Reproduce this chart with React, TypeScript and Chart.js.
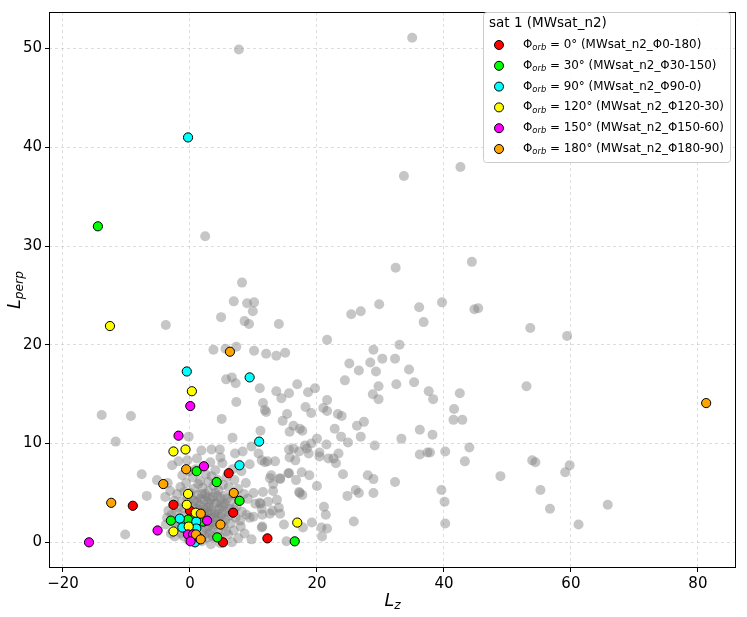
import React, { useEffect, useRef } from 'react';
import Chart from 'chart.js/auto';

// axis ranges and ticks
const xRange = [-22.2, 86.0];
const yRange = [-2.6, 53.7];
const xTicks = [-20, 0, 20, 40, 60, 80];
const yTicks = [0, 10, 20, 30, 40, 50];

const legendTitle = 'sat 1 (MWsat_n2)';
const phiLabels = ['0°', '30°', '90°', '120°', '150°', '180°'];
const runNames = [
  'MWsat_n2_Φ0-180',
  'MWsat_n2_Φ30-150',
  'MWsat_n2_Φ90-0',
  'MWsat_n2_Φ120-30',
  'MWsat_n2_Φ150-60',
  'MWsat_n2_Φ180-90',
];
const phiColors = ['#ff0000', '#00ff00', '#00ffff', '#ffff00', '#ff00ff', '#ffa500'];

// satellite particles per orbital phase
const phi0Lz = [6.1, -9.0, -2.6, 0.0, 6.8, 5.2, 12.2];
const phi0Lperp = [7.0, 3.7, 3.8, 3.2, 3.0, 0.0, 0.4];
const phi30Lz = [-14.5, 1.05, 4.2, 7.8, -0.3, -3.0, 2.1, 4.3, 16.5];
const phi30Lperp = [32.0, 7.2, 6.1, 4.2, 2.3, 2.2, 2.1, 0.5, 0.1];
const phi90Lz = [-0.3, -0.5, 9.4, 10.9, 7.8, -1.6, 1.0, -1.2, 1.0, 0.8];
const phi90Lperp = [41.0, 17.3, 16.7, 10.2, 7.8, 2.4, 2.1, 1.5, 1.4, 0.0];
const phi120Lz = [-12.6, 0.3, -2.6, -0.7, -0.3, -0.5, 0.9, -2.6, -0.2, 16.9];
const phi120Lperp = [21.9, 15.3, 9.2, 9.4, 4.9, 3.8, 3.0, 1.1, 1.6, 2.0];
const phi150Lz = [0.05, -1.8, 2.2, -5.1, -15.9, 2.7, -0.3, 0.5, 0.1, 1.5];
const phi150Lperp = [13.8, 10.8, 7.7, 1.2, 0.0, 2.2, 0.8, 0.8, 0.1, 0.4];
const phi180Lz = [6.3, 81.3, -0.6, -4.2, 6.9, -12.4, 1.7, 4.8, 0.95, 1.7];
const phi180Lperp = [19.3, 14.1, 7.4, 5.9, 5.0, 4.0, 2.9, 1.8, 0.8, 0.3];

const phaseLz = [phi0Lz, phi30Lz, phi90Lz, phi120Lz, phi150Lz, phi180Lz];
const phaseLperp = [phi0Lperp, phi30Lperp, phi90Lperp, phi120Lperp, phi150Lperp, phi180Lperp];

// background halo particles, [Lz, Lperp]
const haloOuter = [
  [7.7, 49.9], [35.0, 51.1], [2.4, 31.0], [42.6, 38.0], [33.7, 37.1], [44.4, 28.4], [32.4, 27.8], [8.2, 26.3],
  [29.8, 24.1], [36.1, 23.8], [39.7, 24.3], [44.8, 23.6], [45.4, 23.7], [36.8, 22.3], [53.6, 21.7], [59.4, 20.9],
  [33.0, 20.0], [30.3, 18.6], [32.3, 18.6], [34.5, 17.5], [53.0, 15.8], [37.6, 15.3], [38.3, 14.5], [42.5, 15.1],
  [41.6, 13.5], [41.5, 12.4], [42.9, 12.4], [38.2, 10.9], [37.8, 9.1], [40.2, 9.2], [44.0, 9.6], [43.3, 8.2],
  [53.9, 8.3], [54.4, 8.1], [59.8, 7.8], [59.1, 7.1], [48.9, 6.7], [39.6, 5.3], [55.2, 5.3], [40.1, 4.1],
  [65.8, 3.8], [56.7, 3.4], [40.2, 1.9], [61.2, 1.8], [32.5, 16.0], [35.3, 16.2], [36.2, 11.4], [33.3, 10.5],
  [-3.8, 22.0],
];
const haloMiddle = [
  [6.9, 24.4], [9.0, 24.2], [10.1, 24.3], [9.9, 23.4], [4.9, 22.8], [8.6, 22.4], [9.3, 22.1], [14.0, 22.1],
  [25.4, 23.1], [26.9, 23.4], [21.6, 20.5], [3.7, 19.5], [5.6, 19.6], [7.3, 19.8], [10.1, 19.4], [12.0, 19.1],
  [13.6, 18.9], [15.0, 19.2], [28.9, 19.5], [25.1, 18.1], [26.6, 17.4], [28.4, 18.2], [29.3, 17.3], [5.7, 16.5],
  [6.6, 16.7], [7.2, 16.1], [11.0, 15.6], [13.6, 15.3], [14.4, 14.6], [15.6, 15.1], [16.9, 16.0], [18.6, 15.2],
  [19.7, 15.6], [24.4, 16.4], [29.7, 15.8], [28.8, 15.0], [29.7, 14.5], [21.6, 14.4], [7.3, 14.2], [11.5, 14.1],
  [11.8, 13.4], [12.0, 13.2], [15.3, 13.0], [18.2, 13.7], [19.1, 13.1], [21.0, 13.6], [21.6, 13.3], [23.3, 13.0],
  [23.9, 12.8], [5.0, 12.5], [14.6, 12.3], [27.4, 12.2], [16.3, 11.8], [17.7, 11.3], [11.1, 11.3], [22.8, 11.5],
  [23.8, 10.7], [26.3, 11.8], [26.9, 10.7], [24.9, 10.1], [29.1, 9.8], [36.2, 8.9], [37.4, 9.1], [9.7, 9.7],
  [10.8, 9.0], [15.6, 9.4], [17.2, 9.2], [18.7, 9.0], [18.1, 9.8], [19.1, 10.0], [20.0, 10.5], [20.4, 9.1],
  [21.5, 9.9], [21.8, 8.5], [20.4, 8.7], [23.4, 9.0], [23.0, 8.0], [15.7, 8.6], [16.6, 8.3], [13.4, 8.2],
  [11.8, 8.1], [9.4, 7.9], [15.7, 11.2], [17.3, 11.5], [16.3, 9.5], [18.4, 9.5], [22.6, 8.5],
];
const haloInner = [
  [15.6, 7.0], [17.6, 7.1], [18.8, 6.8], [12.8, 6.8], [14.2, 6.4], [13.1, 5.9], [24.1, 6.9], [28.0, 6.8],
  [28.9, 6.4], [32.3, 6.1], [16.7, 6.3], [20.0, 5.7], [17.2, 5.1], [17.7, 4.8], [26.1, 5.3], [26.6, 5.0],
  [28.9, 5.0], [24.8, 4.7], [11.5, 5.1], [10.0, 5.0], [9.1, 4.4], [13.7, 4.3], [12.3, 4.1], [11.1, 3.9],
  [10.3, 3.9], [14.0, 3.5], [13.0, 3.2], [11.4, 2.8], [21.1, 3.6], [21.4, 2.8], [10.0, 2.6], [8.9, 2.8],
  [7.9, 2.2], [19.2, 2.0], [17.8, 1.5], [14.8, 1.8], [25.8, 2.1], [20.7, 1.5], [21.6, 1.4], [20.8, 0.6],
  [11.4, 1.6], [9.7, 0.3], [15.2, 0.1], [11.3, 8.3], [12.2, 8.2], [14.2, 6.5], [12.6, 6.5], [15.5, 7.0],
  [13.1, 5.2], [17.3, 5.0], [11.0, 4.0], [11.3, 3.4], [12.6, 2.9], [14.2, 2.9], [9.4, 2.5], [11.3, 1.5],
  [-13.9, 12.9], [-9.3, 12.8], [-11.7, 10.2], [-7.6, 6.9], [-5.2, 6.3], [-6.8, 4.7], [-10.2, 0.8], [-0.2, 10.7],
  [-1.8, 8.2], [-0.4, 8.3], [1.8, 9.3], [3.4, 9.4], [4.7, 9.4], [6.7, 10.6], [7.1, 9.0], [8.3, 9.2],
];
const haloCore = [
  [-3.5, 6.0], [-2.8, 7.8], [-1.2, 6.8], [-0.6, 6.0], [0.4, 6.6], [1.6, 6.2], [2.5, 6.9], [3.2, 8.1],
  [4.0, 7.3], [5.1, 8.0], [5.8, 6.6], [7.0, 6.3], [8.1, 7.2], [8.8, 6.0], [-3.9, 4.6], [-3.1, 5.2],
  [-2.0, 4.9], [-1.5, 5.6], [0.6, 5.4], [1.2, 4.8], [2.0, 5.5], [2.9, 5.2], [3.6, 4.6], [4.5, 5.3],
  [5.4, 4.7], [6.1, 5.6], [7.6, 5.4], [8.5, 4.9], [-3.4, 3.2], [-2.1, 3.0], [-1.3, 4.1], [-0.9, 3.4],
  [0.7, 4.2], [1.5, 3.8], [2.3, 4.3], [3.0, 3.6], [3.8, 3.9], [4.6, 3.4], [5.5, 3.9], [6.3, 4.1],
  [7.3, 3.6], [8.2, 3.1], [-3.8, 1.8], [-2.9, 2.8], [-1.9, 1.9], [-0.8, 2.7], [0.3, 2.6], [1.4, 1.7],
  [2.2, 2.9], [3.1, 2.4], [3.9, 3.0], [4.7, 2.6], [5.6, 2.3], [6.4, 1.9], [7.2, 2.5], [8.0, 1.6],
  [-2.4, 0.6], [-1.4, 0.9], [-0.5, 1.3], [0.8, 0.9], [2.0, 1.2], [2.8, 0.5], [3.6, 1.4], [4.4, 1.1],
  [5.3, 1.6], [6.0, 0.8], [6.9, 1.2], [7.6, 0.4], [8.6, 0.9], [-0.2, 0.2], [1.9, 0.1], [3.3, -0.2],
  [4.8, -0.1], [6.6, 0.0], [1.0, 3.4], [1.8, 3.0], [2.6, 3.5], [3.4, 3.2], [4.2, 4.0], [2.7, 4.6],
  [1.9, 2.4], [3.5, 2.0], [4.1, 2.2], [2.4, 2.0], [0.9, 1.6], [3.0, 1.6], [4.9, 4.4], [5.9, 3.1],
  [1.3, 5.9], [3.7, 5.7], [4.4, 6.3], [6.7, 7.4], [-0.1, 7.2], [2.1, 7.7], [1.1, 8.5], [4.8, 8.6],
  [0.2, 4.5], [1.7, 4.4], [2.9, 4.0], [3.3, 2.9], [2.5, 2.6], [1.2, 2.6], [0.5, 3.6], [4.0, 5.0],
  [5.0, 2.9], [5.2, 3.6], [2.1, 3.5], [3.6, 0.6], [1.4, 0.4], [-1.0, 0.6], [-3.0, 0.9], [-3.6, 2.5],
  [0.0, 5.0], [1.1, 4.1], [2.4, 4.9], [3.2, 4.3], [4.3, 4.7], [5.8, 4.4], [6.8, 4.8], [0.4, 3.0],
  [1.6, 3.3], [2.8, 3.1], [4.4, 2.9], [5.1, 2.0], [6.1, 2.7], [0.1, 1.9], [1.7, 2.0], [2.6, 1.4],
  [3.8, 1.8], [4.6, 0.6], [5.7, 1.1], [-1.5, 2.3], [-2.5, 2.0], [-1.1, 1.5], [0.6, 2.2], [2.3, 0.8],
  [3.0, 0.9], [-0.4, 4.4], [-2.5, 4.2], [-1.8, 3.5], [7.7, 4.3], [6.9, 3.3], [0.9, 7.4], [2.9, 6.1],
  [5.2, 5.8], [3.4, 6.7], [-0.9, 5.1], [1.9, 4.9], [6.2, 3.4], [3.9, 2.5], [2.1, 2.5], [4.9, 3.8],
];

type Seg = { text: string; italic?: boolean; sub?: boolean };

function segFont(seg: Seg, size: number) {
  const s = seg.sub ? size * 0.7 : size;
  return `${seg.italic ? 'italic ' : ''}${s}px "DejaVu Sans"`;
}

function segsWidth(ctx: CanvasRenderingContext2D, segs: Seg[], size: number) {
  let w = 0;
  for (const s of segs) {
    ctx.font = segFont(s, size);
    w += ctx.measureText(s.text).width;
  }
  return w;
}

function drawSegs(ctx: CanvasRenderingContext2D, segs: Seg[], x: number, y: number, size: number) {
  let cx = x;
  for (const s of segs) {
    ctx.font = segFont(s, size);
    ctx.fillText(s.text, cx, y + (s.sub ? size * 0.25 : 0));
    cx += ctx.measureText(s.text).width;
  }
}

const overlayPlugin = {
  id: 'overlay',
  afterDraw(chart: any) {
    const { ctx, chartArea: a } = chart;
    ctx.save();
    // axes frame
    ctx.strokeStyle = '#000';
    ctx.lineWidth = 1;
    ctx.strokeRect(a.left + 0.5, a.top + 0.5, a.right - a.left - 1, a.bottom - a.top - 1);

    ctx.fillStyle = '#000';
    ctx.textBaseline = 'middle';

    // x title
    const xTitle: Seg[] = [{ text: 'L', italic: true }, { text: 'z', italic: true, sub: true }];
    const xw = segsWidth(ctx, xTitle, 17.5);
    drawSegs(ctx, xTitle, (a.left + a.right) / 2 - xw / 2, 601, 17.5);

    // y title
    const yTitle: Seg[] = [{ text: 'L', italic: true }, { text: 'perp', italic: true, sub: true }];
    const yw = segsWidth(ctx, yTitle, 17.5);
    ctx.save();
    ctx.translate(15, (a.top + a.bottom) / 2);
    ctx.rotate(-Math.PI / 2);
    drawSegs(ctx, yTitle, -yw / 2, 0, 17.5);
    ctx.restore();

    // legend
    const bx = 483.5, by = 12.5, bw = 247, bh = 150;
    ctx.beginPath();
    ctx.roundRect(bx, by, bw, bh, 3);
    ctx.fillStyle = 'rgba(255,255,255,0.85)';
    ctx.fill();
    ctx.strokeStyle = '#cccccc';
    ctx.stroke();

    ctx.fillStyle = '#000';
    ctx.font = '13.5px "DejaVu Sans"';
    ctx.fillText(legendTitle, 489, 23);

    phiLabels.forEach((phi, i) => {
      const y = 45 + i * 20.8;
      ctx.beginPath();
      ctx.arc(499, y, 4.5, 0, Math.PI * 2);
      ctx.fillStyle = phiColors[i];
      ctx.fill();
      ctx.strokeStyle = '#000';
      ctx.lineWidth = 1;
      ctx.stroke();
      ctx.fillStyle = '#000';
      drawSegs(
        ctx,
        [
          { text: 'Φ' },
          { text: 'orb', italic: true, sub: true },
          { text: ` = ${phi} (${runNames[i]})` },
        ],
        523,
        y,
        11.9
      );
    });
    ctx.restore();
  },
};

export default function App() {
  const canvasRef = useRef<HTMLCanvasElement>(null);
  const chartRef = useRef<Chart | null>(null);

  useEffect(() => {
    document.body.style.margin = '0';
    if (!canvasRef.current) return;
    const ctx = canvasRef.current.getContext('2d');
    if (!ctx) return;

    if (chartRef.current) {
      chartRef.current.destroy();
    }

    const halo = [...haloOuter, ...haloMiddle, ...haloInner, ...haloCore];

    const phaseSets = phiLabels.map((phi, i) => ({
      label: `Φorb = ${phi} (${runNames[i]})`,
      data: phaseLz[i].map((x, j) => ({ x, y: phaseLperp[i][j] })),
      backgroundColor: phiColors[i],
      borderColor: '#000',
      borderWidth: 1,
      pointRadius: 4.6,
      order: 6 - i,
    }));

    const gridOpts = {
      color: 'rgba(176,176,176,0.55)',
      lineWidth: 0.8,
      tickLength: 4,
      tickColor: '#000',
      tickWidth: 1,
      tickBorderDash: [],
    };

    chartRef.current = new Chart(ctx, {
      type: 'scatter',
      data: {
        datasets: [
          ...phaseSets,
          {
            label: 'halo',
            data: halo.map(([x, y]) => ({ x, y })),
            backgroundColor: 'rgba(128,128,128,0.45)',
            borderWidth: 0,
            pointRadius: 5,
            order: 7,
          },
        ],
      },
      options: {
        responsive: false,
        animation: false,
        layout: { padding: { left: 0, top: 5, right: 11, bottom: 0 } },
        plugins: {
          legend: { display: false },
          tooltip: { enabled: false },
        },
        scales: {
          x: {
            type: 'linear',
            min: xRange[0],
            max: xRange[1],
            afterBuildTicks: (scale: any) => {
              scale.ticks = xTicks.map((v) => ({ value: v }));
            },
            afterFit: (scale: any) => {
              scale.height = 49;
            },
            ticks: {
              color: '#000',
              padding: 3,
              font: { family: 'DejaVu Sans', size: 15 },
              callback: (v: any) => String(v).replace('-', '−'),
            },
            grid: gridOpts,
            border: { display: false, dash: [3, 3] },
          },
          y: {
            type: 'linear',
            min: yRange[0],
            max: yRange[1],
            afterBuildTicks: (scale: any) => {
              scale.ticks = yTicks.map((v) => ({ value: v }));
            },
            afterFit: (scale: any) => {
              scale.width = 49;
            },
            ticks: {
              color: '#000',
              padding: 3,
              font: { family: 'DejaVu Sans', size: 15 },
            },
            grid: gridOpts,
            border: { display: false, dash: [3, 3] },
          },
        },
      },
      plugins: [overlayPlugin],
    });

    return () => {
      if (chartRef.current) {
        chartRef.current.destroy();
        chartRef.current = null;
      }
    };
  }, []);

  return (
    <div style={{ width: 747, height: 617 }}>
      <canvas ref={canvasRef} width={747} height={617} />
    </div>
  );
}
